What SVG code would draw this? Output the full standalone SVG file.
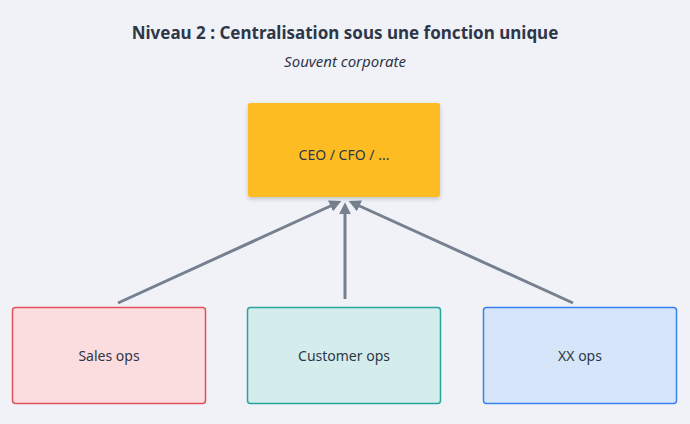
<svg xmlns="http://www.w3.org/2000/svg" width="690" height="424" viewBox="0 0 690 424">
<style>
text{font-family:"Noto Sans","DejaVu Sans",sans-serif;fill:#2d3748;text-anchor:middle}
.lbl{font-size:14px}
.box{stroke-width:1.5}
.con{stroke:#76808f;stroke-width:3;fill:none;marker-end:url(#ah)}
</style>
<defs>
<marker id="ah" viewBox="0 0 10 10" refX="6" refY="5" markerWidth="4" markerHeight="4" orient="auto"><path d="M0,0 L10,5 L0,10 z" fill="#76808f"/></marker>
<filter id="sh" x="-10%" y="-10%" width="120%" height="130%"><feDropShadow dx="0" dy="2" stdDeviation="2" flood-opacity="0.2"/></filter>
</defs>
<rect width="690" height="424" fill="#f0f2f8"/>
<text x="345" y="39" font-size="17" font-weight="bold">Niveau 2 : Centralisation sous une fonction unique</text>
<text x="345" y="67" font-size="15" font-style="italic">Souvent corporate</text>
<g id="conns">
<line class="con" x1="118" y1="303" x2="337" y2="203"/>
<line class="con" x1="345" y1="299" x2="345" y2="207"/>
<line class="con" x1="573" y1="303" x2="353" y2="203"/>
</g>
<g id="ceo"><rect x="248" y="103" width="192" height="94" rx="2" fill="#fdbd24" filter="url(#sh)"/><text class="lbl" x="344" y="160">CEO / CFO / ...</text></g>
<g id="sales"><rect class="box" x="12.5" y="307.5" width="193" height="96" rx="3" fill="#fbdcdf" stroke="#e0525a"/><text class="lbl" x="109" y="361">Sales ops</text></g>
<g id="customer"><rect class="box" x="247.5" y="307.5" width="193" height="96" rx="3" fill="#d4edec" stroke="#26a69a"/><text class="lbl" x="344" y="361">Customer ops</text></g>
<g id="xx"><rect class="box" x="483.5" y="307.5" width="193" height="96" rx="3" fill="#d6e5f9" stroke="#3b82f0"/><text class="lbl" x="580" y="361">XX ops</text></g>
</svg>
